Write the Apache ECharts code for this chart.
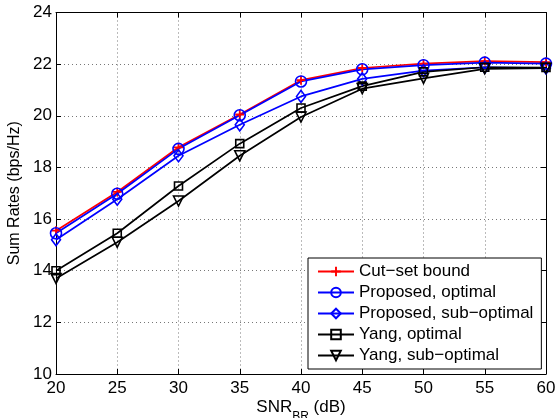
<!DOCTYPE html>
<html>
<head>
<meta charset="utf-8">
<script src="https://cdn.jsdelivr.net/npm/echarts@6/dist/echarts.min.js"></script>
<style>
html,body{margin:0;padding:0;background:#fff;}
#chart{width:559px;height:418px;}
</style>
</head>
<body>
<div id="chart"></div>
<script>
const snr = [20, 25, 30, 35, 40, 45, 50, 55, 60];
const cutSet = [15.55, 17.05, 18.78, 20.05, 21.38, 21.85, 22.02, 22.12, 22.08];
const propOpt = [15.45, 16.98, 18.72, 20.02, 21.33, 21.80, 21.96, 22.06, 22.02];
const propSub = [15.20, 16.77, 18.45, 19.65, 20.75, 21.43, 21.75, 21.88, 21.85];
const yangOpt = [14.00, 15.45, 17.28, 18.92, 20.30, 21.15, 21.70, 21.88, 21.87];
const yangSub = [13.70, 15.10, 16.70, 18.45, 19.95, 21.05, 21.45, 21.82, 21.84];
const names = ['Cut\u2212set bound', 'Proposed, optimal', 'Proposed, sub\u2212optimal', 'Yang, optimal', 'Yang, sub\u2212optimal'];
const xTicks = [20, 25, 30, 35, 40, 45, 50, 55, 60];
const yTicks = [10, 12, 14, 16, 18, 20, 22, 24];

const FONT = 'Liberation Sans, Arial, Helvetica, sans-serif';
const plusPath = 'path://M4,0L6,0L6,4L10,4L10,6L6,6L6,10L4,10L4,6L0,6L0,4L4,4Z';

function pts(arr) { return snr.map((x, i) => [x, arr[i]]); }

function mkSeries(name, data, color, symbol, size, rotate, filled) {
  return {
    name: name,
    type: 'line',
    data: pts(data),
    symbol: symbol,
    symbolSize: size,
    symbolRotate: rotate || 0,
    showAllSymbol: true,
    lineStyle: { color: color, width: 1.7 },
    itemStyle: filled ? { color: color } : { color: 'rgba(0,0,0,0)', borderColor: color, borderWidth: 1.6 },
    emphasis: { disabled: true },
    animation: false,
    z: 3
  };
}

const axisCommon = {
  axisLine: { show: true, onZero: false, lineStyle: { color: '#000', width: 1 } },
  axisTick: { show: true, inside: true, length: 5, lineStyle: { color: '#000' } },
};

const chart = echarts.init(document.getElementById('chart'), null, { renderer: 'canvas' });
chart.setOption({
  backgroundColor: '#fff',
  animation: false,
  grid: { left: 56, right: 13, top: 12.5, bottom: 44, containLabel: false, outerBoundsMode: 'none' },
  xAxis: [
    Object.assign({
      type: 'value', min: xTicks[0], max: xTicks[xTicks.length - 1], interval: 5, position: 'bottom',
      axisLabel: { color: '#000', fontSize: 17, fontFamily: FONT, margin: 6 },
      splitLine: { show: true, lineStyle: { color: '#777', type: [1, 3], width: 1 } },
      name: '{a|SNR}{b|BR}{a| (dB)}',
      nameLocation: 'middle',
      nameGap: 25,
      nameMoveOverlap: false,
      nameTextStyle: {
        color: '#000', fontFamily: FONT, verticalAlign: 'top',
        rich: {
          a: { fontSize: 17, fontFamily: FONT, color: '#000', lineHeight: 17, verticalAlign: 'top' },
          b: { fontSize: 12, fontFamily: FONT, color: '#000', lineHeight: 24, verticalAlign: 'bottom' }
        }
      }
    }, axisCommon),
    Object.assign({
      type: 'value', min: xTicks[0], max: xTicks[xTicks.length - 1], interval: 5, position: 'top',
      axisLabel: { show: false }, splitLine: { show: false }
    }, axisCommon)
  ],
  yAxis: [
    Object.assign({
      type: 'value', min: yTicks[0], max: yTicks[yTicks.length - 1], interval: 2, position: 'left',
      axisLabel: { color: '#000', fontSize: 17, fontFamily: FONT, margin: 4 },
      splitLine: { show: true, lineStyle: { color: '#777', type: [1, 3], width: 1 } },
      name: 'Sum Rates (bps/Hz)',
      nameLocation: 'middle',
      nameGap: 33,
      nameMoveOverlap: false,
      nameTextStyle: { color: '#000', fontSize: 16, fontFamily: FONT }
    }, axisCommon),
    Object.assign({
      type: 'value', min: yTicks[0], max: yTicks[yTicks.length - 1], interval: 2, position: 'right',
      axisLabel: { show: false }, splitLine: { show: false }
    }, axisCommon)
  ],
  legend: {
    orient: 'vertical',
    left: 308, top: 258,
    padding: [5, 8, 5, 9],
    itemWidth: 36, itemHeight: 12, itemGap: 4,
    backgroundColor: '#fff',
    borderColor: '#000', borderWidth: 1, borderRadius: 0,
    textStyle: { color: '#000', fontSize: 17, fontFamily: FONT, lineHeight: 17 },
    data: names,
    selectedMode: false
  },
  series: [
    mkSeries(names[0], cutSet, '#ff0000', plusPath, 9, 0, true),
    mkSeries(names[1], propOpt, '#0000ff', 'circle', 11, 0, false),
    mkSeries(names[2], propSub, '#0000ff', 'diamond', [9, 12], 0, false),
    mkSeries(names[3], yangOpt, '#000000', 'rect', 8, 0, false),
    mkSeries(names[4], yangSub, '#000000', 'triangle', 10, 180, false)
  ]
});
</script>
</body>
</html>
